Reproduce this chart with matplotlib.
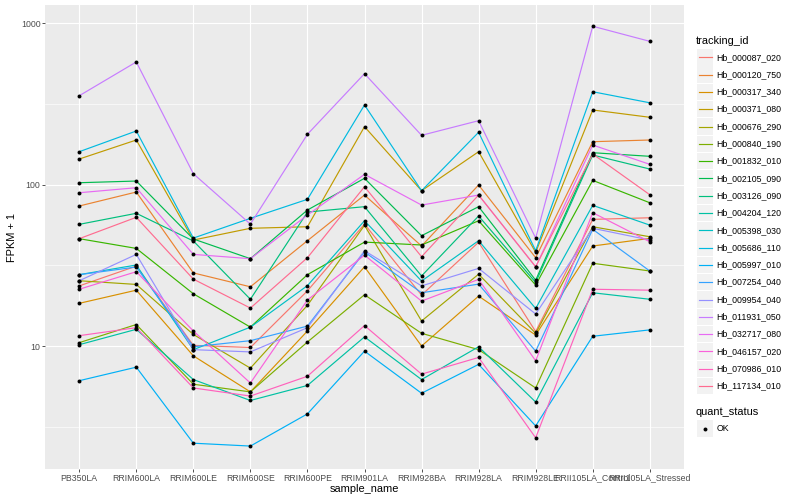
import numpy as np
import matplotlib.pyplot as plt
from matplotlib.patches import Rectangle
from matplotlib.ticker import NullFormatter

samples = ["PB350LA", "RRIM600LA", "RRIM600LE", "RRIM600SE", "RRIM600PE",
           "RRIM901LA", "RRIM928BA", "RRIM928LA", "RRIM928LE",
           "RRII105LA_Control", "RRII105LA_Stressed"]

tracking_ids = ["Hb_000087_020", "Hb_000120_750", "Hb_000317_340", "Hb_000371_080",
                "Hb_000676_290", "Hb_000840_190", "Hb_001832_010", "Hb_002105_090",
                "Hb_003126_090", "Hb_004204_120", "Hb_005398_030", "Hb_005686_110",
                "Hb_005997_010", "Hb_007254_040", "Hb_009954_040", "Hb_011931_050",
                "Hb_032717_080", "Hb_046157_020", "Hb_070986_010", "Hb_117134_010"]

# FPKM + 1 per sample
hb_000087_020 = [23.6, 31.3, 10.1, 9.8, 22.0, 57.0, 20.7, 44.0, 12.3, 61.0, 62.4]
hb_000120_750 = [73.8, 90.1, 28.4, 23.3, 45.0, 86.3, 41.7, 99.6, 35.3, 184.8, 189.3]
hb_000317_340 = [18.4, 22.2, 8.7, 5.2, 12.4, 31.0, 10.0, 20.4, 11.7, 41.7, 46.5]
hb_000371_080 = [144.3, 189.3, 45.4, 53.7, 54.9, 229.0, 91.8, 160.2, 38.1, 290.6, 261.8]
hb_000676_290 = [25.4, 24.1, 11.8, 7.3, 17.9, 56.0, 14.3, 27.9, 12.0, 54.9, 47.6]
hb_000840_190 = [10.5, 13.6, 5.8, 5.2, 10.6, 20.8, 12.0, 9.5, 5.5, 32.6, 29.2]
hb_001832_010 = [46.3, 40.3, 21.1, 13.1, 27.7, 44.1, 42.3, 59.8, 23.9, 106.4, 77.3]
hb_002105_090 = [102.9, 105.4, 46.1, 34.8, 69.7, 109.6, 48.3, 73.1, 25.6, 157.9, 150.0]
hb_003126_090 = [56.8, 66.5, 44.8, 19.5, 67.7, 73.1, 27.2, 64.0, 24.8, 152.8, 125.1]
hb_004204_120 = [10.2, 12.7, 6.2, 4.6, 5.7, 11.4, 6.2, 9.9, 4.5, 21.4, 19.5]
hb_005398_030 = [27.7, 31.8, 9.5, 13.1, 23.7, 59.8, 25.3, 45.0, 17.1, 74.5, 56.2]
hb_005686_110 = [160.2, 215.3, 46.7, 61.9, 81.2, 312.0, 91.8, 211.3, 39.0, 377.0, 322.0]
hb_005997_010 = [6.1, 7.4, 2.5, 2.4, 3.8, 9.3, 5.1, 7.7, 3.2, 11.5, 12.6]
hb_007254_040 = [27.7, 30.9, 9.9, 10.8, 13.3, 38.3, 21.4, 24.2, 9.3, 52.9, 29.2]
hb_009954_040 = [25.4, 37.0, 9.5, 9.2, 13.0, 39.0, 23.6, 30.3, 15.8, 53.7, 45.4]
hb_011931_050 = [356.0, 576.7, 117.0, 57.0, 205.4, 488.0, 202.4, 249.4, 46.7, 960.0, 774.0]
hb_032717_080 = [89.2, 95.8, 37.0, 34.8, 64.9, 116.0, 74.8, 86.3, 31.0, 176.2, 133.8]
hb_046157_020 = [22.5, 28.9, 12.4, 5.9, 19.3, 36.6, 19.0, 25.9, 8.1, 67.1, 44.3]
hb_070986_010 = [11.6, 13.0, 5.5, 4.9, 6.5, 13.4, 6.7, 8.5, 2.7, 22.5, 22.2]
hb_117134_010 = [46.3, 62.8, 26.0, 17.2, 35.3, 97.2, 35.8, 86.3, 31.0, 155.0, 86.7]

series = [hb_000087_020, hb_000120_750, hb_000317_340, hb_000371_080, hb_000676_290,
          hb_000840_190, hb_001832_010, hb_002105_090, hb_003126_090, hb_004204_120,
          hb_005398_030, hb_005686_110, hb_005997_010, hb_007254_040, hb_009954_040,
          hb_011931_050, hb_032717_080, hb_046157_020, hb_070986_010, hb_117134_010]

quant_status = ["OK"]

# ggplot2 default hue palette for 20 levels
hue = ["#F8766D", "#EA8331", "#D89000", "#C09B00", "#A3A500", "#7CAE00", "#39B600",
       "#00BB4E", "#00BF7D", "#00C1A3", "#00BFC4", "#00BAE0", "#00B0F6", "#35A2FF",
       "#9590FF", "#C77CFF", "#E76BF3", "#FA62DB", "#FF62BC", "#FF6C90"]

plt.rcParams["font.family"] = ["Liberation Sans", "DejaVu Sans"]

W, H = 800, 500
fig = plt.figure(figsize=(8, 5), dpi=100)
fig.patch.set_facecolor("white")

# panel in pixels: left 45, right 684, top 5, bottom 469
ax = fig.add_axes([45 / W, 1 - 469 / H, (684 - 45) / W, (469 - 5) / H])
ax.set_facecolor("#EBEBEB")

x = np.arange(len(samples))
for vals, col in zip(series, hue):
    ax.plot(x, vals, color=col, lw=0.85, zorder=2, solid_capstyle="butt")
for vals in series:
    ax.scatter(x, vals, s=8, color="black", linewidths=0, zorder=3)

ax.set_yscale("log")
ax.set_ylim(1.73, 1300)
ax.set_xlim(-0.6, len(samples) - 0.4)

ax.set_yticks([10, 100, 1000], ["10", "100", "1000"])
ax.set_yticks([10 ** 0.5, 10 ** 1.5, 10 ** 2.5], minor=True)
ax.yaxis.set_minor_formatter(NullFormatter())
ax.set_xticks(x, samples)

ax.grid(which="major", color="white", lw=0.85)
ax.yaxis.grid(which="minor", color="white", lw=0.45)
ax.set_axisbelow(True)
for s in ax.spines.values():
    s.set_visible(False)
ax.tick_params(which="major", length=2.0, width=0.6, color="#333333",
               labelcolor="#4D4D4D", labelsize=6.3, pad=1.3)
ax.tick_params(which="minor", length=0)

# overlay in pixel coordinates for titles and legend
ov = fig.add_axes([0, 0, 1, 1], zorder=5)
ov.set_xlim(0, W)
ov.set_ylim(H, 0)
ov.axis("off")
ov.patch.set_visible(False)

ov.text(364.5, 489, "sample_name", ha="center", va="center", fontsize=7.9)
ov.text(12, 237, "FPKM + 1", ha="center", va="center", rotation=90, fontsize=7.9)

ov.text(696, 40.5, "tracking_id", ha="left", va="center", fontsize=7.9)
for i, (tid, col) in enumerate(zip(tracking_ids, hue)):
    cy = 57.3 + i * 17.3
    ov.add_patch(Rectangle((697, cy - 8.2), 16.4, 16.4, fc="#F2F2F2", ec="none"))
    ov.plot([698.5, 711.5], [cy, cy], color=col, lw=0.85)
    ov.text(716.5, cy, tid, ha="left", va="center", fontsize=6.3)

ov.text(696, 411.7, "quant_status", ha="left", va="center", fontsize=7.9)
for j, status in enumerate(quant_status):
    cy = 428.5 + j * 17.3
    ov.add_patch(Rectangle((697, cy - 8.2), 16.4, 16.4, fc="#F2F2F2", ec="none"))
    ov.scatter([705], [cy], s=8, color="black", linewidths=0)
    ov.text(716.5, cy, status, ha="left", va="center", fontsize=6.3)

fig.savefig("out.png", dpi=100)
